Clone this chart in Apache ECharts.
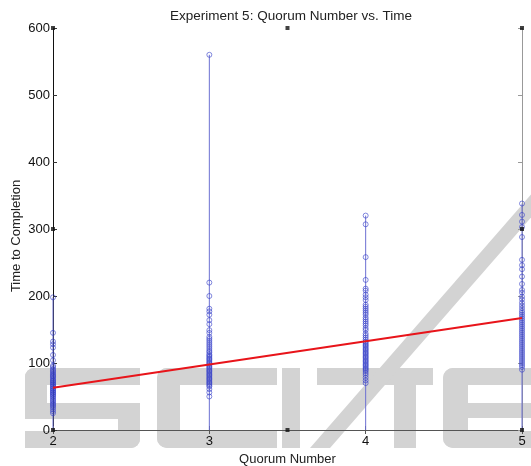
<!DOCTYPE html>
<html>
<head>
<meta charset="utf-8">
<script src="https://cdn.jsdelivr.net/npm/echarts@6/dist/echarts.min.js"></script>
<style>
html,body{margin:0;padding:0;background:#fff;}
#chart{width:531px;height:466px;}
</style>
</head>
<body>
<div id="chart"></div>
<script>
// ---- data ----
const quorumNumbers = [2, 3, 4, 5];
const times2 = [198, 145, 132, 128, 123, 112, 104, 96, 94, 91, 89, 87, 85, 83, 81, 80, 78, 76, 74, 73, 71, 70, 68, 67, 65, 64, 62, 61, 59, 58, 56, 55, 53, 52, 50, 48, 46, 44, 42, 40, 38, 36, 34, 31, 28, 25];
const times3 = [560, 220, 200, 181, 177, 172, 164, 158, 149, 145, 139, 136, 133, 130, 127, 124, 121, 118, 116, 113, 111, 109, 107, 105, 103, 101, 99, 97, 95, 93, 91, 89, 87, 85, 83, 81, 79, 77, 75, 73, 71, 69, 67, 65, 61, 56, 50];
const times4 = [320, 307, 258, 224, 211, 208, 202, 198, 194, 187, 184, 181, 178, 175, 172, 168, 165, 162, 159, 156, 152, 149, 144, 141, 138, 135, 132, 130, 128, 126, 124, 122, 120, 118, 116, 114, 112, 110, 108, 106, 104, 102, 100, 98, 96, 94, 92, 90, 88, 85, 82, 78, 74, 70];
const times5 = [338, 321, 311, 303, 288, 254, 246, 240, 229, 218, 209, 205, 199, 195, 190, 186, 182, 178, 175, 172, 169, 166, 163, 160, 157, 154, 151, 148, 145, 142, 139, 136, 133, 130, 127, 124, 121, 118, 115, 112, 109, 106, 103, 100, 97, 94, 90];
const fitX = [2, 5];
const fitY = [63, 167];
const handleX = [2, 3.5, 5, 2, 3.5, 5, 2, 5];
const handleY = [0, 0, 0, 600, 600, 600, 300, 300];
const yMin = 0, yMax = 600, yStep = 100;
const xMin = 2, xMax = 5, xStep = 1;

// ---- build ----
const allTimes = [times2, times3, times4, times5];
const scatterData = [];
allTimes.forEach((arr, i) => arr.forEach(v => scatterData.push([quorumNumbers[i], v])));

const stemSeries = allTimes.map((arr, i) => ({
  type: 'line',
  data: [[quorumNumbers[i], 0], [quorumNumbers[i], Math.max.apply(null, arr)]],
  symbol: 'none',
  lineStyle: { color: '#6c70d2', width: 1 },
  silent: true,
  z: 2
}));

const wm = '#d3d3d3';
function R(x, y, w, h, r) {
  return { type: 'rect', shape: { x: x, y: y, width: w, height: h, r: r || 0 }, style: { fill: wm }, z: -10, silent: true };
}
const watermark = [
  // S
  R(25, 368, 115, 17, [9, 0, 0, 0]), R(25, 368, 22, 50, [9, 0, 0, 0]), R(25, 403, 115, 16, 0),
  R(118, 403, 22, 45, [0, 0, 9, 0]), R(25, 431, 115, 17, [0, 0, 9, 0]),
  // C
  R(157, 368, 120, 17, [10, 0, 0, 0]), R(157, 368, 23, 80, [10, 0, 0, 10]), R(157, 431, 120, 17, [0, 0, 0, 10]),
  // I
  R(282, 368, 18, 80, 0),
  // T
  R(317, 368, 116, 17, 0), R(394, 368, 22, 80, 0),
  // slash
  { type: 'polygon', shape: { points: [[310, 448], [330, 448], [555, 190], [535, 190]] }, style: { fill: wm }, z: -10, silent: true },
  // E
  R(443, 368, 120, 17, [10, 0, 0, 0]), R(443, 368, 25, 80, [10, 0, 0, 10]), R(443, 403, 120, 15, 0), R(443, 431, 120, 17, [0, 0, 0, 10])
];

const font = "'Liberation Sans', Arial, Helvetica, sans-serif";
const chart = echarts.init(document.getElementById('chart'), null, { renderer: 'canvas' });
chart.setOption({
  backgroundColor: '#ffffff',
  animation: false,
  title: {
    text: 'Experiment 5: Quorum Number vs. Time',
    left: 286, top: 4, textAlign: 'center',
    textStyle: { fontFamily: font, fontSize: 13.5, fontWeight: 'normal', color: '#222' }
  },
  graphic: watermark.concat([{
    type: 'text', x: 16.5, y: 236, rotation: Math.PI / 2,
    style: { text: 'Time to Completion', font: '13px ' + font, fill: '#222', textAlign: 'center', textVerticalAlign: 'middle' },
    z: 5
  }]),
  grid: { left: 53, right: 9, top: 28, bottom: 36, containLabel: false, outerBoundsMode: 'none' },
  xAxis: [{
    type: 'value', min: xMin, max: xMax, interval: xStep, position: 'bottom',
    name: 'Quorum Number', nameLocation: 'middle', nameGap: 20,
    nameTextStyle: { fontFamily: font, fontSize: 13, color: '#222' },
    axisLine: { lineStyle: { color: '#777', width: 1 } },
    axisTick: { inside: true, length: 4, lineStyle: { color: '#555' } },
    axisLabel: { fontFamily: font, fontSize: 13, color: '#111', margin: 5 },
    splitLine: { show: false }
  }, {
    type: 'value', min: xMin, max: xMax, interval: xStep, position: 'top',
    axisLine: { lineStyle: { color: '#555', width: 1 } },
    axisTick: { inside: true, length: 4, lineStyle: { color: '#555' } },
    axisLabel: { show: false }, splitLine: { show: false }
  }],
  yAxis: [{
    type: 'value', min: yMin, max: yMax, interval: yStep, position: 'left',
    axisLine: { show: true, lineStyle: { color: '#111', width: 1 } },
    axisTick: { show: true, inside: true, length: 4, lineStyle: { color: '#333' } },
    axisLabel: { fontFamily: font, fontSize: 13, color: '#111', margin: 3 },
    splitLine: { show: false }
  }, {
    type: 'value', min: yMin, max: yMax, interval: yStep, position: 'right',
    axisLine: { show: true, lineStyle: { color: '#999', width: 1 } },
    axisTick: { show: true, inside: true, length: 4, lineStyle: { color: '#999' } },
    axisLabel: { show: false }, splitLine: { show: false }
  }],
  series: stemSeries.concat([{
    type: 'scatter',
    data: scatterData,
    symbol: 'circle', symbolSize: 5,
    itemStyle: { color: 'rgba(0,0,0,0)', borderColor: 'rgba(50,60,200,0.75)', borderWidth: 1 },
    z: 3, silent: true
  }, {
    type: 'line',
    data: fitX.map((x, i) => [x, fitY[i]]),
    symbol: 'none',
    lineStyle: { color: '#e8141a', width: 2 },
    z: 4, silent: true
  }, {
    type: 'scatter',
    data: handleX.map((x, i) => [x, handleY[i]]),
    symbol: 'rect', symbolSize: 4,
    itemStyle: { color: '#111' },
    z: 10, silent: true
  }])
});
</script>
</body>
</html>
